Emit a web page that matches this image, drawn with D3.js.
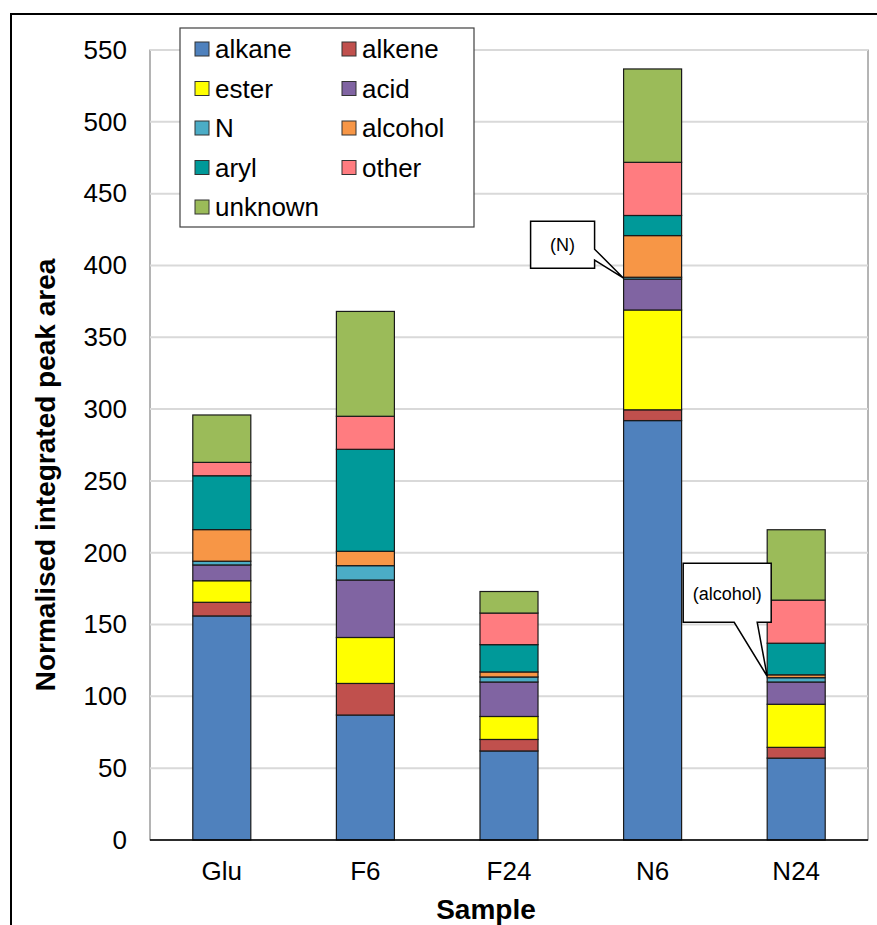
<!DOCTYPE html>
<html><head><meta charset="utf-8">
<script src="https://cdn.jsdelivr.net/npm/d3@7"></script>
<style>body{margin:0;background:#fff}svg{display:block}</style>
</head><body><svg id="c" width="877" height="925"></svg>
<script>
const categories = ["Glu", "F6", "F24", "N6", "N24"];
const seriesNames = ["alkane", "alkene", "ester", "acid", "N", "alcohol", "aryl", "other", "unknown"];
const alkane  = [156, 87, 62, 292, 57];
const alkene  = [9.5, 22, 8, 7.5, 7.5];
const ester   = [15, 32, 16, 69.5, 30];
const acid    = [11, 40, 24, 21.5, 15.5];
const N       = [2.6, 10, 3.5, 1.3, 3];
const alcohol = [22, 10, 3.5, 29, 2];
const aryl    = [37.5, 71, 19, 14, 22];
const other   = [9.3, 23, 22, 37, 30];
const unknown = [33, 73, 15, 65, 49];
const yTicks = [0, 50, 100, 150, 200, 250, 300, 350, 400, 450, 500, 550];
const callouts = [{cat: "N6", series: "N", text: "(N)"}, {cat: "N24", series: "alcohol", text: "(alcohol)"}];

const colors = {alkane:"#4F81BD", alkene:"#C0504D", ester:"#FFFF00", acid:"#8064A2", N:"#4BACC6",
  alcohol:"#F79646", aryl:"#009999", other:"#FF7C80", unknown:"#9BBB59"};
const seriesValues = {alkane, alkene, ester, acid, N, alcohol, aryl, other, unknown};
const table = categories.map((c, i) => {
  const row = {cat: c};
  seriesNames.forEach(s => row[s] = seriesValues[s][i]);
  return row;
});

const svg = d3.select("#c");
const font = "'Liberation Sans', Arial, sans-serif";
const L = 150, R = 868, T = 50, B = 840;

// outer chart border
svg.append("rect").attr("x", 11).attr("y", 14).attr("width", 900).attr("height", 950)
  .attr("fill", "#fff").attr("stroke", "#000").attr("stroke-width", 2);

const x = d3.scaleBand().domain(categories).range([L, R]).paddingInner(0.596).paddingOuter(0.298);
const y = d3.scaleLinear().domain([0, 550]).range([B, T]);

// plot area
svg.append("rect").attr("x", L).attr("y", T).attr("width", R - L).attr("height", B - T)
  .attr("fill", "#fff").attr("stroke", "#6a6a6a").attr("stroke-width", 1);

// gridlines
svg.append("g").selectAll("line").data(yTicks.filter(t => t > 0)).join("line")
  .attr("x1", L).attr("x2", R).attr("y1", d => y(d)).attr("y2", d => y(d))
  .attr("stroke", "#d9d9d9").attr("stroke-width", 2);

// y axis labels
const yAxis = d3.axisLeft(y).tickValues(yTicks).tickSize(0).tickPadding(23);
const yg = svg.append("g").attr("transform", `translate(${L},0)`).call(yAxis);
yg.select(".domain").remove();
yg.selectAll("text").attr("font-family", font).attr("font-size", 26).attr("fill", "#000");

// bars
const stack = d3.stack().keys(seriesNames)(table);
const stackBy = {};
stack.forEach(s => stackBy[s.key] = s);
svg.append("g").selectAll("g").data(stack).join("g")
  .attr("fill", d => colors[d.key])
  .selectAll("rect").data(d => d).join("rect")
  .attr("x", d => x(d.data.cat)).attr("width", x.bandwidth())
  .attr("y", d => y(d[1])).attr("height", d => y(d[0]) - y(d[1]))
  .attr("stroke", "#1a1a1a").attr("stroke-width", 1.2);

// x axis
const xAxis = d3.axisBottom(x).tickSize(0).tickPadding(22);
const xg = svg.append("g").attr("transform", `translate(0,${B})`).call(xAxis);
xg.select(".domain").attr("stroke", "#000").attr("stroke-width", 1.5).attr("d", `M${L},0H${R}`);
xg.selectAll("text").attr("font-family", font).attr("font-size", 26).attr("fill", "#000");

// axis titles
svg.append("text").attr("x", 486).attr("y", 919).attr("text-anchor", "middle")
  .attr("font-family", font).attr("font-size", 28).attr("font-weight", "bold").text("Sample");
svg.append("text").attr("transform", "translate(55,475) rotate(-90)").attr("text-anchor", "middle")
  .attr("font-family", font).attr("font-size", 28).attr("font-weight", "bold")
  .text("Normalised integrated peak area");

// legend
const lg = svg.append("g");
lg.append("rect").attr("x", 180).attr("y", 28).attr("width", 294).attr("height", 199)
  .attr("fill", "#fff").attr("stroke", "#404040").attr("stroke-width", 1.2);
seriesNames.forEach((s, i) => {
  const col = i % 2, row = Math.floor(i / 2);
  const gx = 195 + col * 147, gy = 49 + row * 39.5;
  lg.append("rect").attr("x", gx).attr("y", gy - 7).attr("width", 14).attr("height", 14)
    .attr("fill", colors[s]).attr("stroke", "#333").attr("stroke-width", 1);
  lg.append("text").attr("x", gx + 20).attr("y", gy).attr("dy", "0.35em")
    .attr("font-family", font).attr("font-size", 26).text(s);
});

// callouts
const calloutGeom = {
  "N6": {bx: -93, by: -57, bw: 64, bh: 47, pts: [[0, 28], [0, 39]], text: [32, 24]},
  "N24": {bx: -84, by: -113, bw: 88, bh: 59, pts: [[51, 59], [74, 59]], text: [44, 30]}
};
callouts.forEach(c => {
  const s = stackBy[c.series];
  const idx = categories.indexOf(c.cat);
  const tx = x(c.cat), ty = y((s[idx][0] + s[idx][1]) / 2);
  const g = calloutGeom[c.cat];
  const x0 = tx + g.bx, y0 = ty + g.by;
  let path;
  if (c.cat === "N6") {
    path = `M${x0},${y0}H${x0 + g.bw}V${y0 + g.pts[0][1]}L${tx},${ty}L${x0 + g.bw},${y0 + g.pts[1][1]}V${y0 + g.bh}H${x0}Z`;
  } else {
    path = `M${x0},${y0}H${x0 + g.bw}V${y0 + g.bh}H${x0 + g.pts[1][0]}L${tx},${ty}L${x0 + g.pts[0][0]},${y0 + g.bh}H${x0}Z`;
  }
  svg.append("path").attr("d", path).attr("fill", "#fff").attr("stroke", "#000").attr("stroke-width", 1.5);
  svg.append("text").attr("x", x0 + g.text[0]).attr("y", y0 + g.text[1]).attr("dy", "0.35em")
    .attr("text-anchor", "middle").attr("font-family", font)
    .attr("font-size", 18).text(c.text);
});
</script></body></html>
